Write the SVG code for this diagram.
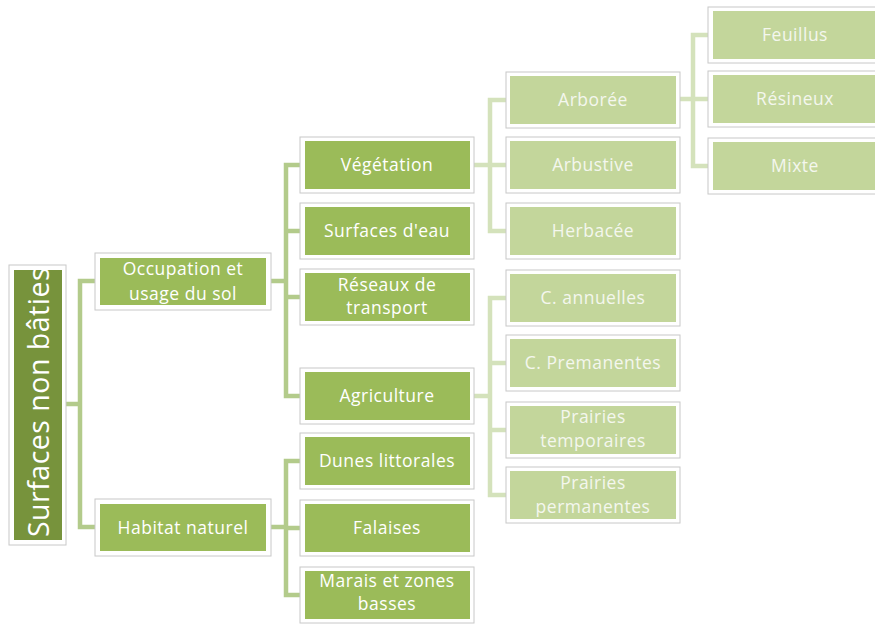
<svg xmlns="http://www.w3.org/2000/svg" width="875" height="624" viewBox="0 0 875 624">
<style>
.frame{fill:#ffffff;stroke:#c8c8c8;stroke-width:1}
.d{fill:#77933c}
.m{fill:#9bbb59}
.l{fill:#c3d69b}
text{font-family:"Open Sans","Liberation Sans",Arial,sans-serif;fill:#ffffff;text-anchor:middle;font-size:17.5px;letter-spacing:0.5px}
.lt{fill:#f4f7ee}
.c1{fill:none;stroke:#b3cb8b;stroke-width:4.5}
.c2{fill:none;stroke:#d4e2bb;stroke-width:4.5}
</style>
<defs>
<clipPath id="rootclip"><rect x="14" y="270" width="48" height="270"/></clipPath>
</defs>
<rect width="875" height="624" fill="#ffffff"/>
<g id="connectors">
<path class="c1" d="M66,404 H80 M95,281 H80 V527 H95"/>
<path class="c1" d="M271,281 H286 M300,165 H286 V396 H300 M286,231 H300 M286,297 H300"/>
<path class="c1" d="M271,527 H286 M300,461 H286 V595 H300 M286,528 H300"/>
<path class="c2" d="M474,165 H490 M506,100 H490 V231 H506 M490,165 H506"/>
<path class="c2" d="M474,396 H490 M506,298 H490 V495 H506 M490,363 H506 M490,430 H506"/>
<path class="c2" d="M680,99 H693 M708,35 H693 V166 H708 M693,99 H708"/>
</g>
<g id="root">
<rect class="frame" x="9" y="265" width="57" height="280"/>
<rect class="d" x="14" y="270" width="48" height="270"/>
<g clip-path="url(#rootclip)">
<text x="0" y="0" transform="translate(49,402) rotate(-90)" style="font-size:28.5px;letter-spacing:0.5px">Surfaces non bâties</text>
</g>
</g>
<g id="occupation">
<rect class="frame" x="95" y="253" width="176" height="57"/>
<rect class="m" x="100" y="258" width="166" height="47"/>
<text x="183" y="275">Occupation et</text>
<text x="183" y="300">usage du sol</text>
</g>
<g id="habitat">
<rect class="frame" x="95" y="499" width="176" height="57"/>
<rect class="m" x="100" y="504" width="166" height="47"/>
<text x="183" y="534">Habitat naturel</text>
</g>
<g id="vegetation">
<rect class="frame" x="300" y="137" width="174" height="56"/>
<rect class="m" x="305" y="141" width="165" height="48"/>
<text x="387" y="171">Végétation</text>
</g>
<g id="eau">
<rect class="frame" x="300" y="203" width="174" height="56"/>
<rect class="m" x="305" y="207" width="165" height="48"/>
<text x="387" y="237">Surfaces d'eau</text>
</g>
<g id="reseaux">
<rect class="frame" x="300" y="269" width="174" height="56"/>
<rect class="m" x="305" y="273" width="165" height="48"/>
<text x="387" y="291">Réseaux de</text>
<text x="387" y="314">transport</text>
</g>
<g id="agriculture">
<rect class="frame" x="300" y="368" width="174" height="56"/>
<rect class="m" x="305" y="372" width="165" height="48"/>
<text x="387" y="402">Agriculture</text>
</g>
<g id="dunes">
<rect class="frame" x="300" y="433" width="174" height="56"/>
<rect class="m" x="305" y="437" width="165" height="48"/>
<text x="387" y="467">Dunes littorales</text>
</g>
<g id="falaises">
<rect class="frame" x="300" y="500" width="174" height="56"/>
<rect class="m" x="305" y="504" width="165" height="48"/>
<text x="387" y="534">Falaises</text>
</g>
<g id="marais">
<rect class="frame" x="300" y="567" width="174" height="56"/>
<rect class="m" x="305" y="571" width="165" height="48"/>
<text x="387" y="587">Marais et zones</text>
<text x="387" y="610">basses</text>
</g>
<g id="arboree">
<rect class="frame" x="506" y="72" width="174" height="56"/>
<rect class="l" x="510" y="76" width="166" height="48"/>
<text class="lt" x="593" y="106">Arborée</text>
</g>
<g id="arbustive">
<rect class="frame" x="506" y="137" width="174" height="56"/>
<rect class="l" x="510" y="141" width="166" height="48"/>
<text class="lt" x="593" y="171">Arbustive</text>
</g>
<g id="herbacee">
<rect class="frame" x="506" y="203" width="174" height="56"/>
<rect class="l" x="510" y="207" width="166" height="48"/>
<text class="lt" x="593" y="237">Herbacée</text>
</g>
<g id="annuelles">
<rect class="frame" x="506" y="270" width="174" height="56"/>
<rect class="l" x="510" y="274" width="166" height="48"/>
<text class="lt" x="593" y="304">C. annuelles</text>
</g>
<g id="premanentes">
<rect class="frame" x="506" y="335" width="174" height="56"/>
<rect class="l" x="510" y="339" width="166" height="48"/>
<text class="lt" x="593" y="369">C. Premanentes</text>
</g>
<g id="prairies-temporaires">
<rect class="frame" x="506" y="402" width="174" height="56"/>
<rect class="l" x="510" y="406" width="166" height="48"/>
<text class="lt" x="593" y="423">Prairies</text>
<text class="lt" x="593" y="447">temporaires</text>
</g>
<g id="prairies-permanentes">
<rect class="frame" x="506" y="467" width="174" height="56"/>
<rect class="l" x="510" y="471" width="166" height="48"/>
<text class="lt" x="593" y="489">Prairies</text>
<text class="lt" x="593" y="513">permanentes</text>
</g>
<g id="feuillus">
<rect class="frame" x="708" y="7" width="175" height="56"/>
<rect class="l" x="713" y="11" width="170" height="48"/>
<text class="lt" x="795" y="41">Feuillus</text>
</g>
<g id="resineux">
<rect class="frame" x="708" y="71" width="175" height="56"/>
<rect class="l" x="713" y="75" width="170" height="48"/>
<text class="lt" x="795" y="105">Résineux</text>
</g>
<g id="mixte">
<rect class="frame" x="708" y="138" width="175" height="56"/>
<rect class="l" x="713" y="142" width="170" height="48"/>
<text class="lt" x="795" y="172">Mixte</text>
</g>
</svg>
